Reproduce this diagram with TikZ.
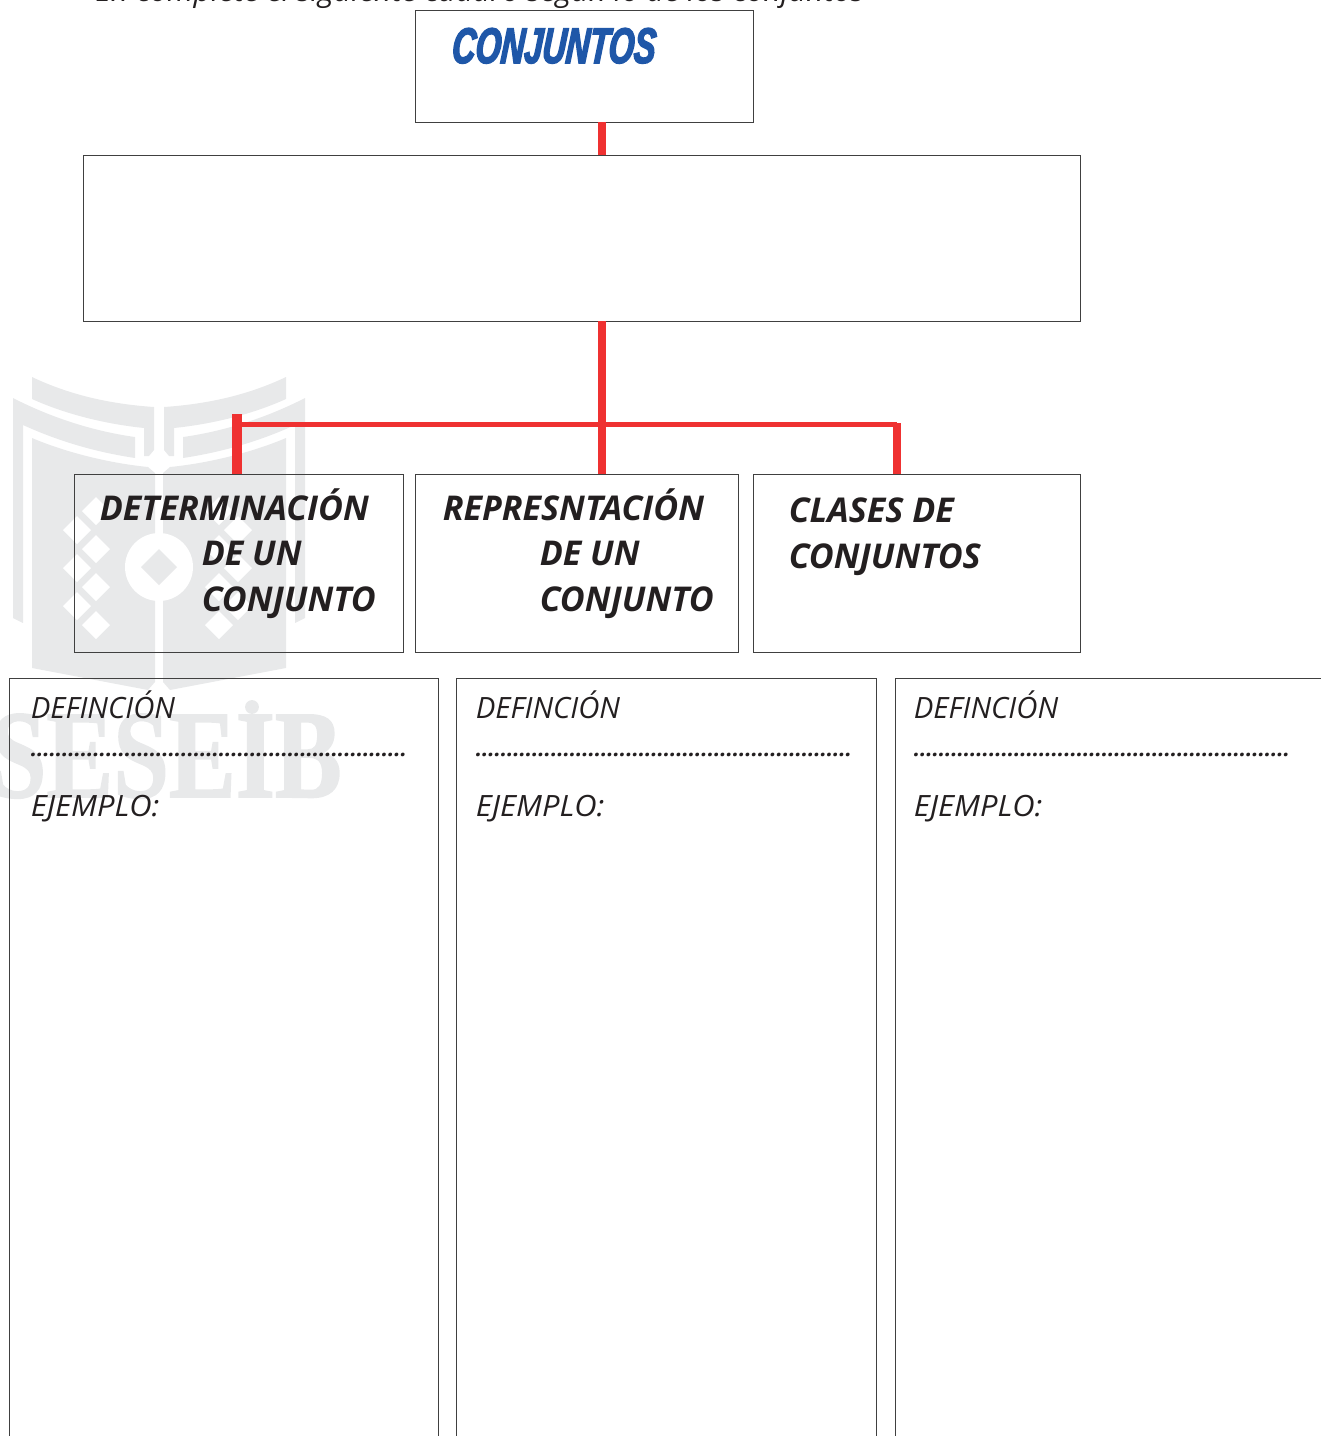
\documentclass[tikz,border=0pt]{standalone}
\usepackage{fontspec}
\setmainfont{Open Sans}
\newfontfamily\titlefont[FakeStretch=0.65,FakeBold=3,FakeSlant=0.08]{Liberation Sans}
\newfontfamily\markfont[FakeBold=1.5]{Liberation Serif}
\usepackage{tikz}
\usetikzlibrary{positioning}
\definecolor{inkblack}{HTML}{231F20}
\definecolor{boxline}{HTML}{404040}
\definecolor{branchred}{HTML}{EF3131}
\definecolor{titleblue}{HTML}{1F57A8}
\definecolor{markgray}{HTML}{E8E9EA}
\tikzset{
    panel/.style={
    rectangle,draw=boxline,line width=0.7pt,inner sep=0pt,outer sep=0pt,anchor=north west
    },
    lbl/.style={
    anchor=base west,inner sep=0pt,text=inkblack,font=\fontsize{22}{26}\selectfont\itshape
    },
    headlbl/.style={
    anchor=base west,inner sep=0pt,text=inkblack,font=\fontsize{25.6}{28}\selectfont\bfseries\itshape
    },
    dotlbl/.style={
    anchor=base west,inner sep=0pt,text=inkblack,font=\fontsize{16.5}{20}\selectfont\bfseries\itshape
    },
    branch/.style={
    draw=branchred,line width=6pt
    },
}
\begin{document}
\begin{tikzpicture}[x=0.75pt,y=-0.75pt]
   \useasboundingbox (0,0) rectangle (1321,1436);

   % watermark
   \foreach \shx/\sgn in {0/1,318/-1}{
   \begin{scope}[shift={(\shx,0)},xscale=\sgn]
     \fill[markgray] (32,377) .. controls (70,395) and (110,404) .. (154,407)
        -- (154,450) -- (149,456) -- (144,456) -- (144,428)
        .. controls (105,424) and (65,414) .. (32,399) -- cycle;
     \fill[markgray] (13,398) .. controls (50,417) and (92,431) .. (135,437)
        -- (135,458) .. controls (95,452) and (58,441) .. (23,425)
        -- (23,623) -- (13,618) -- cycle;
     \fill[markgray] (32,438) .. controls (65,452) and (108,463) .. (148,467)
        -- (155,473) -- (155,682) -- (148,690) -- (32,668) -- cycle;
   \end{scope}
   }
   \foreach \dx/\dy in {96/511,96/549,96/587,96/625,77/530,77/568,77/606,
                        219/511,219/549,219/587,219/625,238/530,238/568,238/606}{
     \fill[white] (\dx-14,\dy) -- (\dx,\dy-14) -- (\dx+14,\dy) -- (\dx,\dy+14) -- cycle;
   }
   \fill[white] (159,567) circle (25.5pt);
   \fill[markgray] (141,567) -- (159,549) -- (177,567) -- (159,585) -- cycle;
   \node[anchor=base east,inner sep=0pt,xscale=0.8,text=markgray,font=\fontsize{94}{94}\selectfont\markfont\bfseries] (wmtext) at (342,797) {SESEIB};
   \fill[markgray] (252,707) circle (5.2pt);

   \node[lbl,xscale=1.034] (intro) at (95,1) {En complete el siguiente cuadro según lo de los conjuntos};

   % boxes
   \node[panel,minimum width=253.5pt,minimum height=84pt] (conj) at (415,10) {};
   \node[panel,minimum width=747.75pt,minimum height=124.5pt] (wide) at (83,155) {};
   \node[panel,minimum width=246.4pt,minimum height=133.9pt] (det) at (74.5,474) {};
   \node[panel,minimum width=242.6pt,minimum height=133.9pt] (rep) at (415,474) {};
   \node[panel,minimum width=245.25pt,minimum height=133.9pt] (cla) at (753,474) {};
   \node[panel,minimum width=321.4pt,minimum height=586.5pt] (defa) at (9.5,678) {};
   \node[panel,minimum width=314.6pt,minimum height=586.5pt] (defb) at (456.5,678) {};
   \node[panel,minimum width=333.75pt,minimum height=586.5pt] (defc) at (895,678) {};

   % connectors
   \coordinate (trunk) at (602,424.5);
   \coordinate (stubl) at (237,414);
   \coordinate (stubr) at (897,424.5);
   \draw[branch] (trunk |- conj.south) -- (trunk |- wide.north);
   \draw[branch] (trunk |- wide.south) -- (trunk |- rep.north);
   \draw[branch,line width=4.2pt] (stubl |- trunk) -- (stubr);
   \draw[branch,line width=7.5pt] (stubl) -- (stubl |- det.north);
   \draw[branch] ([yshift=1pt]stubr) -- (stubr |- cla.north);

   % texts
   \node[anchor=base west,inner sep=0pt,text=titleblue,font=\fontsize{37.5}{40}\selectfont\titlefont\bfseries\itshape] (title) at (451,63) {CONJUNTOS};

   \node[headlbl] (det1) at (99.5,520) {DETERMINACIÓN};
   \node[headlbl] (det2) at (201.5,565) {DE UN};
   \node[headlbl] (det3) at (201.5,611) {CONJUNTO};
   \node[headlbl] (rep1) at (442.5,520) {REPRESNTACIÓN};
   \node[headlbl] (rep2) at (539.5,565) {DE UN};
   \node[headlbl] (rep3) at (539.5,611) {CONJUNTO};
   \node[headlbl] (cla1) at (788.5,522) {CLASES DE};
   \node[headlbl] (cla2) at (788.5,568) {CONJUNTOS};

   \foreach \nm/\tx in {a/30.5,b/475.5,c/913.5}{
     \node[lbl] (def\nm) at (\tx,718.5) {DEFINCIÓN};
     \node[dotlbl] (dots\nm) at (\tx,756.5) {............................................................};
     \node[lbl,xscale=1.055] (ej\nm) at (\tx,816) {EJEMPLO:};
   }
\end{tikzpicture}
\end{document}
